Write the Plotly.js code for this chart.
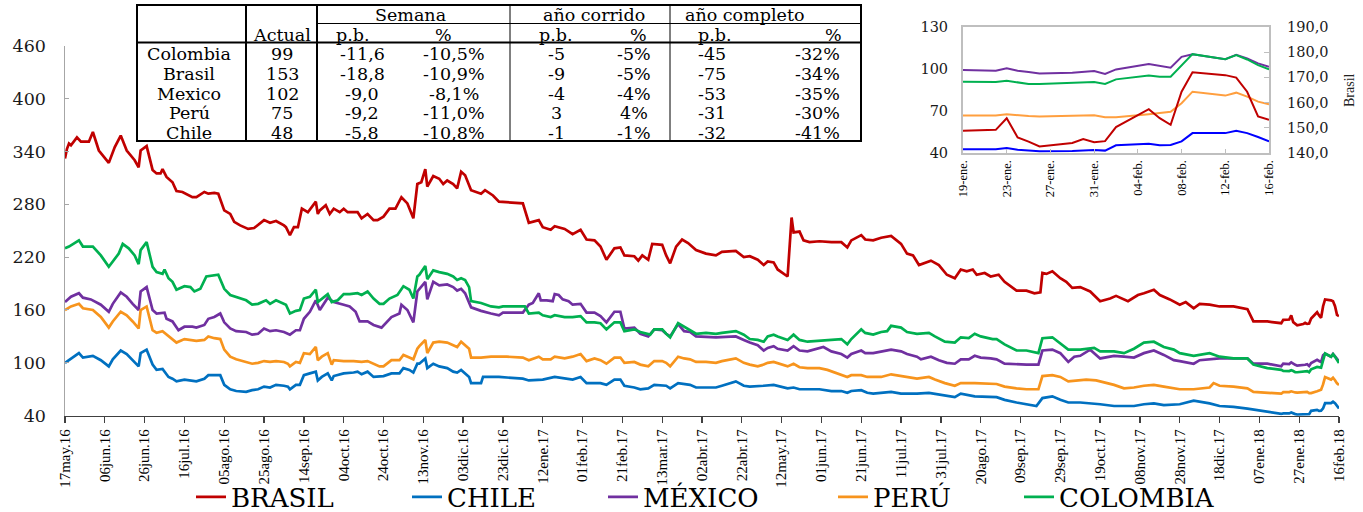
<!DOCTYPE html>
<html>
<head>
<meta charset="utf-8">
<script src="https://cdn.plot.ly/plotly-3.0.1.min.js"></script>
<style>
html,body{margin:0;padding:0;background:#ffffff;}
#chart{width:1363px;height:512px;}
</style>
</head>
<body>
<div id="chart"></div>
<script>
// ---------------- DATA ----------------
// Main chart: days counted from 17 May 2016, values in basis points
const startDay = "2016-05-17";
const seriesNames = ["BRASIL", "CHILE", "MÉXICO", "PERÚ", "COLOMBIA"];

const brasilDays = [0,1,2,3,6,8,12,14,17,22, 25,28,31,35,37,38,41,44,46,48,
  49,51,54,56,59,64,66,70,72,75, 77,80,83,85,88,92,95,100,103,106,
  110,111,113,115,117,119,122,126,127,128, 131,133,135,138,140,142,147,149,152,155,
  157,160,163,166,169,172,175,177,179,181, 182,185,188,190,192,195,197,199,201,204,
  209,211,215,218,230,233,238,240,244,246, 251,255,259,262,266,269,272,276,279,281,
  286,288,290,293,295,300,302,304,307,310, 313,317,322,327,330,337,341,344,348,351,
  353,356,358,363,365,366,369,371,374,379, 385,390,393,395,400,402,406,410,415,420,
  423,426,429,435,439,443,447,450,453,456, 458,462,465,469,472,478,483,487,490,491,
  493,496,500,503,506,510,515,520,525,528, 534,539,542,547,550,555,560,563,567,570,
  575,580,587,594,597,604,611];
const brasilVals = [332,343,349,347,356,351,351,362,341,327, 345,358,341,330,322,341,346,319,315,315,
  320,311,305,295,294,288,288,294,292,293, 292,273,269,260,256,252,253,262,259,261,
  256,254,245,254,254,275,271,283,269,273, 279,269,275,271,275,271,271,264,269,262,
  262,266,275,275,288,281,264,303,305,320, 300,312,309,303,307,303,298,317,313,296,
  292,296,290,283,281,259,262,254,251,255, 252,246,251,240,239,232,217,230,231,222,
  221,216,222,217,235,234,222,213,232,240, 236,228,224,222,226,227,220,221,217,211,
  215,214,206,198,265,248,249,239,237,238, 237,237,231,239,245,240,239,242,244,235,
  224,222,211,216,211,200,196,206,204,206, 200,202,198,200,192,182,182,179,180,202,
  201,204,196,192,185,186,181,170,173,176, 170,177,179,183,177,172,166,169,162,167,
  166,164,164,161,147,147,145];

const chileDays = [0,3,7,9,14,18,22,24,28,31, 34,37,38,41,44,46,49,52,54,56,
  60,64,66,70,72,78,80,83,86,91, 94,97,100,103,106,110,112,113,116,118,
  120,123,126,127,129,132,134,135,140,145, 147,149,152,155,160,164,168,170,173,175,
  177,178,181,182,185,188,192,195,197,199, 201,203,204,209,210,218,230,233,240,246,
  255,259,262,269,272,276,279,281,286,289, 293,296,302,304,308,314,317,327,330,337,
  341,344,351,356,363,366,369,379,385,390, 393,395,400,403,406,413,415,420,423,428,
  434,437,442,447,450,454,457,468,472,478, 483,488,491,496,500,504,510,517,520,527,
  532,537,542,547,552,557,560,567,570,575, 580,587,594,597,604,611];
const chileVals = [100,105,111,106,108,103,96,104,114,110, 103,96,111,115,98,92,93,84,82,79,
  81,80,79,82,86,86,75,70,68,67, 69,70,73,72,75,74,73,70,75,75,
  86,88,90,80,84,88,80,85,88,89, 90,87,90,84,85,88,88,94,92,89,
  99,99,105,94,99,96,94,90,89,92, 88,84,77,77,84,84,82,80,81,84,
  81,84,77,77,75,81,81,74,72,70, 71,75,74,71,77,75,72,72,74,79,
  74,73,74,75,71,72,70,70,68,68, 66,68,69,66,65,66,67,65,65,65,
  66,65,63,61,65,63,62,61,58,55, 53,51,60,62,58,55,55,54,53,51,
  51,51,53,54,52,53,53,57,56,54, 51,50,48,47,45,42];

const mexicoDays = [0,3,7,9,13,18,22,24,28,31, 34,37,38,41,44,46,50,51,54,57,
  60,64,66,70,72,75,78,80,83,86, 91,94,97,100,103,106,110,113,116,118,
  120,123,126,128,132,135,140,143,146,148, 152,155,159,164,168,169,172,175,177,178,
  181,182,185,188,192,195,197,199,201,204, 209,214,218,220,225,230,233,235,238,239,
  242,245,246,248,250,253,255,259,262,266, 269,272,276,279,281,286,289,293,296,300,
  302,304,308,311,314,317,327,337,341,344, 348,351,353,356,358,363,366,369,373,378,
  381,385,390,393,395,400,402,406,410,415, 420,423,428,430,435,439,443,447,450,454,
  457,460,465,468,472,478,483,489,491,496, 500,504,507,510,515,520,527,532,537,542,
  547,552,557,560,567,570,575,580,594,597, 604,611];
const mexicoVals = [169,175,179,174,172,166,158,167,180,175, 167,160,181,186,160,156,157,150,147,137,
  141,141,140,143,150,152,156,146,139,136, 135,132,133,139,136,137,135,132,137,137,
  150,158,171,160,174,169,166,164,158,147, 147,143,140,152,156,166,160,146,181,184,
  192,172,192,188,189,186,182,184,179,163, 159,156,154,157,157,157,166,168,179,171,
  171,170,178,177,172,170,166,167,157,157, 153,146,158,158,139,140,133,130,138,137,
  133,130,144,136,135,130,129,130,126,123, 120,114,117,119,116,114,119,114,113,116,
  118,113,110,106,110,114,111,111,113,115, 113,110,107,104,107,103,100,99,104,104,
  108,106,105,104,99,98,98,98,114,115, 111,101,107,108,115,105,108,107,106,111,
  114,109,103,102,99,103,104,105,105,99, 99,96];

const peruDays = [0,3,7,9,14,18,22,24,28,31, 34,37,38,41,44,46,49,52,54,56,
  60,64,66,70,72,75,78,80,83,86, 91,94,97,100,103,106,110,112,113,116,
  118,120,123,126,127,129,132,134,135,140, 145,149,152,155,158,160,164,168,170,173,
  175,177,178,181,182,185,188,192,195,197, 199,201,203,204,209,214,222,230,233,238,
  240,244,246,251,255,259,262,266,269,272, 276,279,281,286,289,293,296,300,302,304,
  308,311,314,317,322,327,330,337,341,344, 348,351,353,356,363,366,369,373,379,383,
  389,393,395,400,403,406,410,415,420,423, 428,434,437,442,447,450,454,457,468,472,
  478,483,489,491,496,500,504,510,513,518, 527,532,537,542,547,552,557,560,567,575,
  577,580,587,594,597,604,611];
const peruVals = [160,164,167,162,160,152,140,147,158,154, 147,139,160,164,137,134,136,130,127,123,
  127,126,125,126,130,128,127,115,107,104, 101,99,100,102,101,102,101,99,96,101,
  100,111,110,118,103,107,111,98,103,102, 102,101,102,99,96,96,103,103,109,106,
  104,116,119,126,111,123,124,123,120,118, 124,120,116,106,106,107,107,106,103,107,
  104,104,107,105,107,110,102,105,103,99, 106,106,100,101,98,96,102,102,100,96,
  107,105,104,101,101,100,102,105,100,98, 96,98,100,101,96,99,95,94,94,92,
  87,84,86,86,84,84,84,87,85,84, 82,84,81,77,74,77,77,77,76,73,
  71,70,70,85,86,84,79,80,81,80, 75,71,72,74,75,73,71,70,70,72,
  77,74,73,71,67,66,65];

const colombiaDays = [0,2,7,9,14,18,22,27,29,32, 35,37,38,41,44,46,49,50,52,54,
  56,60,63,65,68,71,77,80,83,86, 91,94,97,101,103,106,110,111,113,116,
  118,120,123,126,127,129,132,134,137,140, 143,147,149,152,155,158,160,163,167,170,
  173,175,177,178,181,182,185,188,192,195, 197,199,201,203,204,209,214,218,220,225,
  231,233,238,240,244,246,251,255,259,262, 266,269,272,276,279,281,286,289,294,296,
  300,302,304,308,311,314,317,322,327,330, 337,341,344,348,351,353,356,358,363,366,
  369,373,378,385,390,393,395,400,402,406, 410,413,415,420,423,428,434,437,442,447,
  450,454,457,460,466,468,472,478,483,489, 491,496,500,504,510,517,520,527,532,537,
  542,547,552,557,560,567,575,580,587,594, 597,604,611];
const colombiaVals = [230,232,239,232,232,222,209,224,235,230, 222,212,228,237,209,203,201,206,196,192,
  183,187,186,181,184,198,200,184,177,175, 171,166,167,171,167,171,167,166,156,159,
  160,173,175,183,169,173,178,169,171,178, 178,179,177,181,173,167,167,173,177,187,
  183,173,198,200,210,195,205,203,201,198, 194,196,194,186,170,168,164,163,164,164,
  164,156,157,154,152,154,152,152,153,146, 146,145,138,146,146,136,138,135,132,138,
  138,133,129,145,141,137,133,134,133,134, 136,132,127,126,124,130,132,130,126,132,
  126,124,125,126,127,121,127,138,134,132, 135,136,142,140,135,133,134,130,124,123,
  129,128,133,130,127,127,121,114,114,111, 128,129,122,115,115,117,113,113,111,116,
  123,124,118,115,111,108,111,107,105,105, 98,94,92];

const mainTickDates = ["2016-05-17","2016-06-06","2016-06-26","2016-07-16","2016-08-05","2016-08-25",
  "2016-09-14","2016-10-04","2016-10-24","2016-11-13","2016-12-03","2016-12-23","2017-01-12",
  "2017-02-01","2017-02-21","2017-03-13","2017-04-02","2017-04-22","2017-05-12","2017-06-01",
  "2017-06-21","2017-07-11","2017-07-31","2017-08-20","2017-09-09","2017-09-29","2017-10-19",
  "2017-11-08","2017-11-28","2017-12-18","2018-01-07","2018-01-27","2018-02-16"];
const mainTickLabels = ["17may.16","06jun.16","26jun.16","16jul.16","05ago.16","25ago.16",
  "14sep.16","04oct.16","24oct.16","13nov.16","03dic.16","23dic.16","12ene.17",
  "01feb.17","21feb.17","13mar.17","02abr.17","22abr.17","12may.17","01jun.17",
  "21jun.17","11jul.17","31jul.17","20ago.17","09sep.17","29sep.17","19oct.17",
  "08nov.17","28nov.17","18dic.17","07ene.18","27ene.18","16feb.18"];
const mainYTicks = [40, 100, 160, 220, 280, 340, 400, 460];

// Inset: last four weeks (daily)
const insetDates = ["2018-01-19","2018-01-22","2018-01-23","2018-01-24","2018-01-25","2018-01-26",
  "2018-01-29","2018-01-30","2018-01-31","2018-02-01","2018-02-02","2018-02-05","2018-02-06",
  "2018-02-07","2018-02-08","2018-02-09","2018-02-12","2018-02-13","2018-02-14","2018-02-15","2018-02-16"];
const insetBrasil   = [148.8,149.2,153.8,146.2,144.5,142.6,144.0,145.5,144.3,144.7,150.3,157.4,153.8,151.2,164.3,172.0,170.9,169.9,164.3,154.5,153.2];
const insetChile    = [42.6,42.6,43.6,42.4,41.8,41.2,41.5,41.8,42.1,41.7,45.5,46.6,45.5,45.7,48.3,54.2,54.2,55.9,54.2,51.4,48.3];
const insetMexico   = [99.2,98.7,100.6,98.7,97.8,96.8,97.3,97.8,98.5,96.4,99.7,103.5,102.1,100.9,108.7,110.6,107.0,110.1,107.5,104.0,101.6];
const insetPeru     = [66.8,66.8,67.7,66.8,66.4,66.1,66.4,66.7,67.0,65.6,65.6,67.7,68.4,69.4,75.5,83.8,81.0,83.1,80.3,76.7,74.8];
const insetColombia = [90.9,90.7,91.6,90.7,89.3,89.3,90.2,90.7,90.7,89.3,92.6,95.4,94.5,94.5,102.8,110.6,107.0,109.9,106.8,102.8,99.7];

const insetTickDates  = ["2018-01-19","2018-01-23","2018-01-27","2018-01-31","2018-02-04","2018-02-08","2018-02-12","2018-02-16"];
const insetTickLabels = ["19-ene.","23-ene.","27-ene.","31-ene.","04-feb.","08-feb.","12-feb.","16-feb."];
const insetLeftTicks  = [40, 70, 100, 130];
const insetRightTicks = [140, 150, 160, 170, 180, 190];
const insetRightLabels = ["140,0","150,0","160,0","170,0","180,0","190,0"];
const insetRightTitle = "Brasil";

// Summary table
const tableCountries = ["Colombia", "Brasil", "Mexico", "Perú", "Chile"];
const tableActual    = ["99", "153", "102", "75", "48"];
const semanaPb       = ["-11,6", "-18,8", "-9,0", "-9,2", "-5,8"];
const semanaPct      = ["-10,5%", "-10,9%", "-8,1%", "-11,0%", "-10,8%"];
const corridoPb      = ["-5", "-9", "-4", "3", "-1"];
const corridoPct     = ["-5%", "-5%", "-4%", "4%", "-1%"];
const completoPb     = ["-45", "-75", "-53", "-31", "-32"];
const completoPct    = ["-32%", "-34%", "-35%", "-30%", "-41%"];
const groupHeaders   = ["Semana", "año corrido", "año completo"];
const subHeaders     = ["Actual", "p.b.", "%", "p.b.", "%", "p.b.", "%"];

// ---------------- BUILD ----------------
const W = 1363, H = 512;
const px = x => x / W;
const py = y => 1 - y / H;
const t0 = Date.UTC(2016, 4, 17);
const dayToDate = d => new Date(t0 + d * 86400000).toISOString().slice(0, 10);

const mainColors  = ["#C00000", "#0070C0", "#7030A0", "#F7941D", "#00B050"];
const insetColors = ["#C00000", "#0000FF", "#7030A0", "#FF9F3F", "#00B050"];
const legendWidths = [171, 151, 185, 141, 180];

const mainDays = [brasilDays, chileDays, mexicoDays, peruDays, colombiaDays];
const mainVals = [brasilVals, chileVals, mexicoVals, peruVals, colombiaVals];
const insetVals = [insetBrasil, insetChile, insetMexico, insetPeru, insetColombia];

const traces = [];
seriesNames.forEach((name, i) => {
  traces.push({
    type: "scatter", mode: "lines", name: name,
    x: mainDays[i].map(dayToDate).concat(insetDates),
    y: mainVals[i].concat(insetVals[i]),
    line: {color: mainColors[i], width: 2.7},
    xaxis: "x", yaxis: "y",
    legendwidth: legendWidths[i],
    hoverinfo: "skip"
  });
});
seriesNames.forEach((name, i) => {
  traces.push({
    type: "scatter", mode: "lines", name: name + " (4 sem.)",
    x: insetDates, y: insetVals[i],
    line: {color: insetColors[i], width: 2},
    xaxis: "x2", yaxis: i === 0 ? "y3" : "y2",
    showlegend: false, hoverinfo: "skip"
  });
});

// Table text
const tFont = {family: "DejaVu Serif", size: 17.5, color: "#000"};
const rowY = [54, 74, 93.5, 113.3, 132.5];
const dataColX = [189, 282, 362, 454, 556, 634, 712, 818];
const subColX = [282, 353, 443, 556, 638, 715, 834];
const groupColX = [410, 594, 745];
const annotations = [];
const cols = [tableCountries, tableActual, semanaPb, semanaPct, corridoPb, corridoPct, completoPb, completoPct];
cols.forEach((col, j) => {
  col.forEach((txt, r) => {
    annotations.push({xref: "paper", yref: "paper", x: px(dataColX[j]), y: py(rowY[r]),
      text: txt, showarrow: false, xanchor: "center", yanchor: "middle", font: tFont});
  });
});
subHeaders.forEach((txt, j) => {
  annotations.push({xref: "paper", yref: "paper", x: px(subColX[j]), y: py(34.5),
    text: txt, showarrow: false, xanchor: "center", yanchor: "middle", font: tFont});
});
groupHeaders.forEach((txt, j) => {
  annotations.push({xref: "paper", yref: "paper", x: px(groupColX[j]), y: py(15),
    text: txt, showarrow: false, xanchor: "center", yanchor: "middle", font: tFont});
});
annotations.push({xref: "paper", yref: "paper", x: px(1349), y: py(90), text: insetRightTitle,
  textangle: -90, showarrow: false, xanchor: "center", yanchor: "middle",
  font: {family: "Liberation Serif", size: 14, color: "#222"}});

// Table borders
const ln = (x0, y0, x1, y1, w) => ({type: "line", xref: "paper", yref: "paper",
  x0: px(x0), y0: py(y0), x1: px(x1), y1: py(y1), line: {color: "#000", width: w}});
const shapes = [
  {type: "rect", xref: "paper", yref: "paper", x0: px(137), y0: py(141), x1: px(861), y1: py(5),
   line: {color: "#000", width: 2}, fillcolor: "rgba(255,255,255,1)", layer: "below"},
  ln(246, 5, 246, 141, 2),
  ln(317, 5, 317, 141, 2),
  ln(510, 5, 510, 141, 1),
  ln(670, 5, 670, 141, 1),
  ln(317, 23.5, 861, 23.5, 1),
  ln(137, 42.5, 861, 42.5, 2)
];

const layout = {
  width: W, height: H,
  margin: {l: 0, r: 0, t: 0, b: 0, autoexpand: false},
  paper_bgcolor: "#ffffff", plot_bgcolor: "rgba(0,0,0,0)",
  showlegend: true,
  legend: {orientation: "h", x: px(191), xanchor: "left", y: py(497), yanchor: "middle",
    font: {family: "DejaVu Serif", size: 26, color: "#000"}, bgcolor: "rgba(0,0,0,0)",
    itemwidth: 30, traceorder: "normal"},
  xaxis: {domain: [px(65), px(1339)], anchor: "y", type: "date",
    range: [startDay, "2018-02-16"], tickmode: "array", tickvals: mainTickDates, ticktext: mainTickLabels,
    tickangle: -90, ticks: "outside", ticklen: 6, tickwidth: 1.3, tickcolor: "#404040",
    showline: true, linecolor: "#404040", linewidth: 1.5, showgrid: false, zeroline: false,
    tickfont: {family: "Liberation Serif", size: 15, color: "#000"}},
  yaxis: {domain: [py(415.7), py(45.7)], anchor: "x", range: [40, 460],
    tickmode: "array", tickvals: mainYTicks, ticks: "inside", ticklen: 4, tickcolor: "#a6a6a6",
    showline: true, linecolor: "#a6a6a6", linewidth: 1.5, showgrid: false, zeroline: false,
    ticklabelstandoff: 14,
    tickfont: {family: "DejaVu Serif", size: 17.5, color: "#1a1a1a"}},
  xaxis2: {domain: [px(963), px(1269)], anchor: "y2", type: "date",
    range: ["2018-01-19", "2018-02-16"], tickmode: "array", tickvals: insetTickDates, ticktext: insetTickLabels,
    tickangle: -90, ticks: "inside", ticklen: 4, tickcolor: "#bfbfbf",
    showline: true, mirror: true, linecolor: "#bfbfbf", linewidth: 2, showgrid: false, zeroline: false,
    tickfont: {family: "Liberation Serif", size: 12.5, color: "#000"}},
  yaxis2: {domain: [py(153), py(27)], anchor: "x2", range: [40, 130],
    tickmode: "array", tickvals: insetLeftTicks, ticks: "",
    showline: true, mirror: true, linecolor: "#bfbfbf", linewidth: 2, showgrid: false, zeroline: false,
    ticklabelstandoff: 10,
    tickfont: {family: "DejaVu Serif", size: 14.5, color: "#1a1a1a"}},
  yaxis3: {overlaying: "y2", side: "right", anchor: "x2", range: [140, 190],
    tickmode: "array", tickvals: insetRightTicks, ticktext: insetRightLabels,
    ticks: "inside", ticklen: 5, tickcolor: "#bfbfbf",
    showline: false, showgrid: false, zeroline: false, ticklabelstandoff: 17,
    tickfont: {family: "DejaVu Serif", size: 14.5, color: "#1a1a1a"}},
  shapes: shapes,
  annotations: annotations
};

Plotly.newPlot("chart", traces, layout, {staticPlot: true, displayModeBar: false});
</script>
</body>
</html>
